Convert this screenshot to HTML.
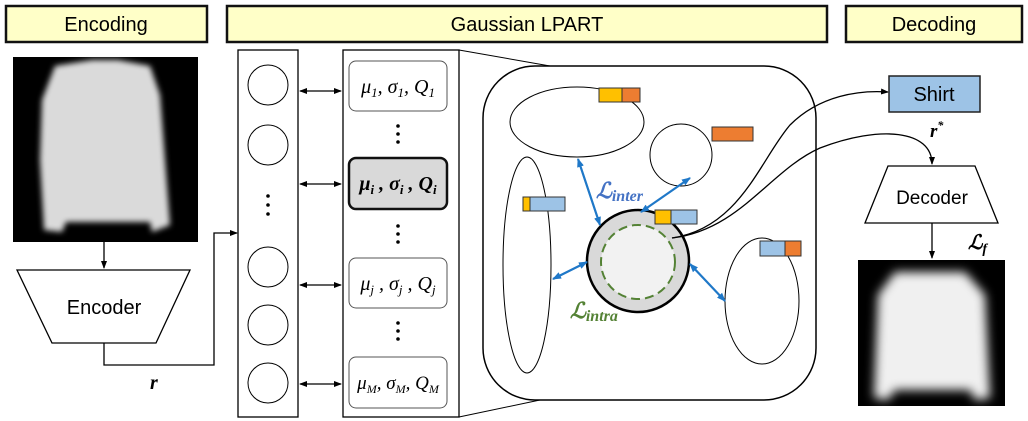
<!DOCTYPE html>
<html><head><meta charset="utf-8"><style>
html,body{margin:0;padding:0;background:#fff;width:1028px;height:421px;overflow:hidden}
svg{display:block}
text{font-family:"Liberation Sans",sans-serif}
.m{font-family:"Liberation Serif",serif;font-style:italic}
</style></head><body>
<svg width="1028" height="421" viewBox="0 0 1028 421">
<defs>
<marker id="ah" markerWidth="8" markerHeight="8" refX="7" refY="4" orient="auto-start-reverse" markerUnits="userSpaceOnUse"><path d="M0,1 L8,4 L0,7 z" fill="#000"/></marker>
<marker id="bh" markerWidth="9" markerHeight="9" refX="8" refY="4.5" orient="auto-start-reverse" markerUnits="userSpaceOnUse"><path d="M0,1 L9,4.5 L0,8 z" fill="#1f78c8"/></marker>
<filter id="bl"><feGaussianBlur stdDeviation="3"/></filter>
<filter id="bl2"><feGaussianBlur stdDeviation="5"/></filter>
</defs>

<g>
<rect x="6" y="6" width="201" height="36" fill="#ffffc8" stroke="#111" stroke-width="2.5"/>
<text x="106" y="31" font-size="20" text-anchor="middle">Encoding</text></g>
<g>
<rect x="227" y="6" width="600" height="36" fill="#ffffc8" stroke="#111" stroke-width="2.5"/>
<text x="527" y="31" font-size="20" text-anchor="middle">Gaussian LPART</text></g>
<g>
<rect x="846" y="6" width="176" height="36" fill="#ffffc8" stroke="#111" stroke-width="2.5"/>
<text x="934" y="31" font-size="20" text-anchor="middle">Decoding</text></g>

<g>
<rect x="13" y="57" width="185" height="185" fill="#000"/>
<path d="M55,66 L92,60 L118,60 L150,66 L160,95 L170,225 L152,232 L150,222 L66,222 L62,232 L44,230 L40,160 L42,100 Z" fill="#dadada" filter="url(#bl)"/>
</g>
<line x1="104" y1="242" x2="104" y2="268" stroke="#000" stroke-width="1.3" marker-end="url(#ah)"/>
<g>
<polygon points="17,270 190,270 156,343 52,343" fill="#fff" stroke="#000" stroke-width="1.3"/>
<text x="104" y="314" font-size="20" text-anchor="middle">Encoder</text></g>
<polyline points="104,343 104,365 214,365 214,233 237,233" fill="none" stroke="#000" stroke-width="1.3" marker-end="url(#ah)"/>
<text x="150" y="389" font-size="20" font-weight="bold" class="m">r</text>

<rect x="238" y="50" width="60" height="367" fill="#fff" stroke="#000" stroke-width="1.3"/>
<g fill="#fff" stroke="#000" stroke-width="1">
<circle cx="268" cy="85" r="20"/><circle cx="268" cy="145" r="20"/><circle cx="268" cy="267" r="20"/><circle cx="268" cy="325" r="20"/><circle cx="268" cy="383" r="20"/></g>
<g fill="#000"><circle cx="268" cy="196" r="1.8"/><circle cx="268" cy="205" r="1.8"/><circle cx="268" cy="214" r="1.8"/></g>

<rect x="343" y="50" width="116" height="367" fill="#fff" stroke="#000" stroke-width="1.3"/>
<g><rect x="349" y="61" width="98" height="50" rx="7" fill="#fff" stroke="#555" stroke-width="1"/><text x="398" y="93" font-size="20" text-anchor="middle" class="m">μ<tspan font-size="13" dy="4">1</tspan><tspan dy="-4">, σ</tspan><tspan font-size="13" dy="4">1</tspan><tspan dy="-4">, Q</tspan><tspan font-size="13" dy="4">1</tspan></text></g>
<g><rect x="349" y="158" width="98" height="51" rx="7" fill="#d9d9d9" stroke="#111" stroke-width="2.5"/><text x="398" y="190" font-size="20" font-weight="bold" text-anchor="middle" class="m">μ<tspan font-size="13" dy="4">i</tspan><tspan dy="-4"> , σ</tspan><tspan font-size="13" dy="4">i</tspan><tspan dy="-4"> , Q</tspan><tspan font-size="13" dy="4">i</tspan></text></g>
<g><rect x="349" y="258" width="98" height="50" rx="7" fill="#fff" stroke="#555" stroke-width="1"/><text x="398" y="290" font-size="20" text-anchor="middle" class="m">μ<tspan font-size="13" dy="4">j</tspan><tspan dy="-4"> , σ</tspan><tspan font-size="13" dy="4">j</tspan><tspan dy="-4"> , Q</tspan><tspan font-size="13" dy="4">j</tspan></text></g>
<g><rect x="349" y="357" width="98" height="51" rx="7" fill="#fff" stroke="#555" stroke-width="1"/><text x="398" y="389" font-size="19" text-anchor="middle" class="m">μ<tspan font-size="12" dy="4">M</tspan><tspan dy="-4">, σ</tspan><tspan font-size="12" dy="4">M</tspan><tspan dy="-4">, Q</tspan><tspan font-size="12" dy="4">M</tspan></text></g>
<g fill="#000">
<circle cx="398" cy="126" r="1.8"/><circle cx="398" cy="134" r="1.8"/><circle cx="398" cy="142" r="1.8"/>
<circle cx="398" cy="226" r="1.8"/><circle cx="398" cy="234" r="1.8"/><circle cx="398" cy="242" r="1.8"/>
<circle cx="398" cy="323" r="1.8"/><circle cx="398" cy="331" r="1.8"/><circle cx="398" cy="339" r="1.8"/></g>
<g stroke="#000" stroke-width="1.3" marker-start="url(#ah)" marker-end="url(#ah)">
<line x1="300" y1="91" x2="341" y2="91"/><line x1="300" y1="184" x2="341" y2="184"/><line x1="300" y1="285" x2="341" y2="285"/><line x1="300" y1="384" x2="341" y2="384"/></g>

<line x1="459" y1="50" x2="550" y2="66" stroke="#000" stroke-width="1"/>
<line x1="459" y1="417" x2="540" y2="400" stroke="#000" stroke-width="1"/>

<rect x="483" y="66" width="333" height="334" rx="52" fill="#fff" stroke="#000" stroke-width="1.5"/>
<g fill="none" stroke="#000" stroke-width="1">
<ellipse cx="577" cy="122" rx="67" ry="35"/><circle cx="681" cy="155" r="31"/><ellipse cx="527" cy="265" rx="24" ry="108"/><ellipse cx="762" cy="301" rx="37" ry="63"/></g>
<g>
<circle cx="638" cy="261" r="51" fill="#d9d9d9" stroke="#000" stroke-width="2.5"/>
<circle cx="638" cy="262" r="37" fill="#f2f2f2" stroke="#548235" stroke-width="2" stroke-dasharray="9,5"/></g>
<g stroke="#333" stroke-width="1">
<rect x="599" y="88" width="23" height="14" fill="#ffc000"/><rect x="622" y="88" width="18" height="14" fill="#ed7d31"/>
<rect x="712" y="127" width="41" height="14" fill="#ed7d31"/>
<rect x="523" y="197" width="7" height="14" fill="#ffc000"/><rect x="530" y="197" width="35" height="14" fill="#9dc3e6"/>
<rect x="655" y="210" width="16" height="14" fill="#ffc000"/><rect x="671" y="210" width="26" height="14" fill="#9dc3e6"/>
<rect x="760" y="241" width="25" height="15" fill="#9dc3e6"/><rect x="785" y="241" width="16" height="15" fill="#ed7d31"/></g>
<g stroke="#1f78c8" stroke-width="2.2" marker-start="url(#bh)" marker-end="url(#bh)">
<line x1="578" y1="159" x2="600" y2="225"/><line x1="690" y1="178" x2="641" y2="212"/><line x1="553" y1="279" x2="587" y2="262"/><line x1="690" y1="264" x2="725" y2="301"/></g>
<text x="596" y="198" font-size="22" fill="#4472c4" font-weight="bold" class="m">ℒ<tspan font-size="16" dy="3">inter</tspan></text>
<text x="570" y="318" font-size="22" fill="#548235" font-weight="bold" class="m">ℒ<tspan font-size="16" dy="3">intra</tspan></text>

<path d="M672,238 C740,228 760,160 790,125 C820,95 860,90 888,92" fill="none" stroke="#000" stroke-width="1.3" marker-end="url(#ah)"/>
<path d="M672,238 C740,230 770,170 820,148 C880,125 932,130 932,164" fill="none" stroke="#000" stroke-width="1.3" marker-end="url(#ah)"/>
<g><rect x="889" y="76" width="91" height="36" fill="#9dc3e6" stroke="#222" stroke-width="1.5"/>
<text x="934" y="101" font-size="20" text-anchor="middle">Shirt</text></g>
<text x="930" y="137" font-size="19" font-weight="bold" class="m">r<tspan font-size="12" dy="-8">*</tspan></text>
<g>
<polygon points="888,166 975,166 998,223 865,223" fill="#fff" stroke="#000" stroke-width="1.3"/>
<text x="932" y="204" font-size="19" text-anchor="middle">Decoder</text></g>
<line x1="932" y1="223" x2="932" y2="258" stroke="#000" stroke-width="1.3" marker-end="url(#ah)"/>
<text x="968" y="249" font-size="20" font-weight="bold" class="m">ℒ<tspan font-size="14" dy="4">f</tspan></text>
<g>
<rect x="858" y="260" width="147" height="146" fill="#000"/>
<path d="M895,272 L965,272 L985,295 L990,398 L975,400 L970,390 L895,390 L888,400 L874,398 L878,295 Z" fill="#f0f0f0" filter="url(#bl2)"/>
</g>
</svg>
</body></html>
